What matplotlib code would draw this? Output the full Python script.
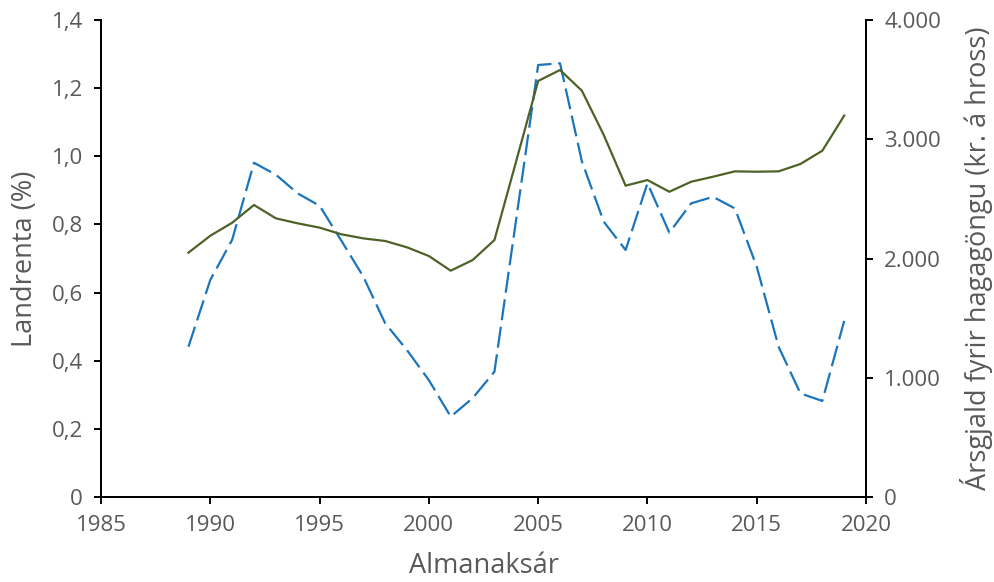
import matplotlib
matplotlib.use("Agg")
import matplotlib.pyplot as plt
from matplotlib.ticker import FuncFormatter, MultipleLocator

years = list(range(1989, 2020))
landrenta = [0.441, 0.637, 0.755, 0.981, 0.946, 0.891, 0.855, 0.752, 0.647, 0.510,
             0.431, 0.343, 0.236, 0.290, 0.368, 0.818, 1.268, 1.273, 0.985, 0.808,
             0.725, 0.921, 0.776, 0.862, 0.881, 0.847, 0.676, 0.441, 0.304, 0.282, 0.517]
arsgjald = [2049, 2191, 2300, 2449, 2337, 2295, 2259, 2203, 2169, 2147,
            2094, 2021, 1898, 1987, 2155, 2820, 3489, 3581, 3407, 3036,
            2611, 2658, 2560, 2644, 2686, 2731, 2728, 2731, 2793, 2904, 3198]

x_label = "Almanaksár"
left_label = "Landrenta (%)"
right_label = "Ársgjald fyrir hagagöngu (kr. á hross)"

plt.rcParams['font.family'] = ['Open Sans', 'DejaVu Sans']
txt = '#595959'
blue = '#1a75bc'
green = '#4e6228'

fig = plt.figure(figsize=(9.95, 5.82), dpi=100)
ax = fig.add_axes([0.1015, 0.146, 0.7689, 0.8196])
ax2 = ax.twinx()

ax.plot(years, landrenta, color=blue, lw=1.6, dashes=(9.5, 3))
ax2.plot(years, arsgjald, color=green, lw=1.6)

ax.set_xlim(1985, 2020)
ax.set_ylim(0, 1.4)
ax2.set_ylim(0, 4000)
ax.xaxis.set_major_locator(MultipleLocator(5))
ax.yaxis.set_major_locator(MultipleLocator(0.2))
ax2.yaxis.set_major_locator(MultipleLocator(1000))

def lfmt(v, p):
    if abs(v) < 1e-9:
        return "0"
    return f"{v:.1f}".replace(".", ",")

def rfmt(v, p):
    return f"{int(round(v)):,}".replace(",", ".")

ax.yaxis.set_major_formatter(FuncFormatter(lfmt))
ax2.yaxis.set_major_formatter(FuncFormatter(rfmt))

for a in (ax, ax2):
    a.spines['top'].set_visible(False)
    for s in a.spines.values():
        s.set_linewidth(1.4)
        s.set_color('black')
    a.tick_params(direction='out', length=5, width=1.4, colors='black',
                  labelcolor=txt, labelsize=16, pad=8)

ax.set_xlabel(x_label, fontsize=19.5, color=txt, va='center')
ax.xaxis.set_label_coords(0.5, -0.145)
ax.set_ylabel(left_label, fontsize=19.5, color=txt, va='center')
ax.yaxis.set_label_coords(-0.0993, 0.5)
ax2.set_ylabel(right_label, fontsize=19.5, color=txt, va='center')
ax2.yaxis.set_label_coords(1.145, 0.5)

fig.savefig("out.png", dpi=100)
